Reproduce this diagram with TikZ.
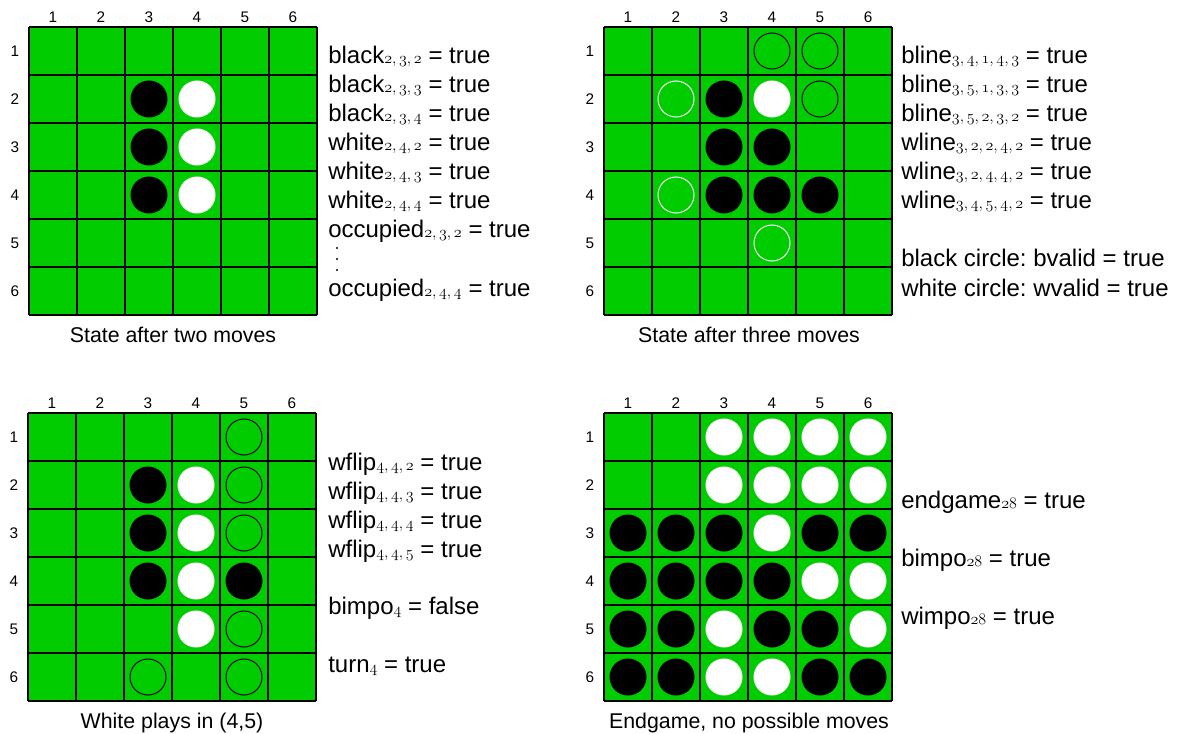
\documentclass[tikz,border=0pt]{standalone}
\usepackage{fontspec}
\setmainfont{Liberation Sans}
\usepackage{xcolor}
\usepackage{tikz}
\usetikzlibrary{positioning}
\definecolor{boardgreen}{HTML}{00CC00}
\frenchspacing
% 变量下标（旧式数字）
\newcommand{\ix}[1]{{\fontsize{12}{12}\selectfont$\mathnormal{#1}$}}

\begin{document}
\begin{tikzpicture}[x=0.75pt, y=-0.75pt,
    gridline/.style={black, line width=0.9pt},
    lbl/.style={font=\fontsize{11.5}{12}\selectfont, inner sep=0pt},
    bdisk/.style={circle, fill=black, inner sep=0pt, minimum size=27.75pt},
    wdisk/.style={circle, fill=white, inner sep=0pt, minimum size=27.75pt},
    bhint/.style={circle, draw=black, line width=0.75pt, inner sep=0pt, minimum size=27pt},
    whint/.style={circle, draw=white, line width=0.75pt, inner sep=0pt, minimum size=27pt},
    fact/.style={anchor=base west, font=\fontsize{18}{20}\selectfont, inner sep=0pt},
    capt/.style={anchor=base, font=\fontsize{16}{20}\selectfont, inner sep=0pt}]
    \useasboundingbox (0,0) rectangle (1180,734);

    % 四个棋盘：绿色底、网格和编号
    \foreach \bx/\by/\bn in {29/27/a, 604/27/b, 28/413/c, 604/413/d} {
        \fill[boardgreen] (\bx,\by) rectangle ++(288,288);
        \foreach \k in {0,...,6} {
            \draw[gridline] (\bx+48*\k,\by) -- ++(0,288);
            \draw[gridline] (\bx,\by+48*\k) -- ++(288,0);
        }
        \foreach \k in {1,...,6} {
            \node[lbl] (\bn-col\k) at (\bx+48*\k-24,\by-10) {\k};
            \node[lbl] (\bn-row\k) at (\bx-14,\by+48*\k-24) {\k};
        }
    }

    % 棋盘1：两步之后
    \begin{scope}[shift={(29,27)}]
        \foreach \c/\r in {3/2, 3/3, 3/4}
            \node[bdisk] (a-b\c\r) at (48*\c-24,48*\r-24) {};
        \foreach \c/\r in {4/2, 4/3, 4/4}
            \node[wdisk] (a-w\c\r) at (48*\c-24,48*\r-24) {};
    \end{scope}

    % 棋盘2：三步之后
    \begin{scope}[shift={(604,27)}]
        \foreach \c/\r in {4/1, 5/1, 5/2}
            \node[bhint] (b-bh\c\r) at (48*\c-24,48*\r-24) {};
        \foreach \c/\r in {2/2, 2/4, 4/5}
            \node[whint] (b-wh\c\r) at (48*\c-24,48*\r-24) {};
        \foreach \c/\r in {3/2, 3/3, 4/3, 3/4, 4/4, 5/4}
            \node[bdisk] (b-b\c\r) at (48*\c-24,48*\r-24) {};
        \node[wdisk] (b-w42) at (48*4-24,48*2-24) {};
    \end{scope}

    % 棋盘3：白方下在 (4,5)
    \begin{scope}[shift={(28,413)}]
        \foreach \c/\r in {5/1, 5/2, 5/3, 5/5, 5/6, 3/6}
            \node[bhint] (c-bh\c\r) at (48*\c-24,48*\r-24) {};
        \foreach \c/\r in {3/2, 3/3, 3/4, 5/4}
            \node[bdisk] (c-b\c\r) at (48*\c-24,48*\r-24) {};
        \foreach \c/\r in {4/2, 4/3, 4/4, 4/5}
            \node[wdisk] (c-w\c\r) at (48*\c-24,48*\r-24) {};
    \end{scope}

    % 棋盘4：终局
    \begin{scope}[shift={(604,413)}]
        \foreach \c/\r in {3/1, 4/1, 5/1, 6/1, 3/2, 4/2, 5/2, 6/2, 4/3, 5/4, 6/4, 3/5, 6/5, 3/6, 4/6}
            \node[wdisk] (d-w\c\r) at (48*\c-24,48*\r-24) {};
        \foreach \c/\r in {1/3, 2/3, 3/3, 5/3, 6/3, 1/4, 2/4, 3/4, 4/4, 1/5, 2/5, 4/5, 5/5, 1/6, 2/6, 5/6, 6/6}
            \node[bdisk] (d-b\c\r) at (48*\c-24,48*\r-24) {};
    \end{scope}

    % 右侧说明文字
    \foreach \t/\yy [count=\i] in {black\ix{2,3,2} = true/64, black\ix{2,3,3} = true/93,
            black\ix{2,3,4} = true/122, white\ix{2,4,2} = true/151, white\ix{2,4,3} = true/180,
            white\ix{2,4,4} = true/209, occupied\ix{2,3,2} = true/238, occupied\ix{2,4,4} = true/296}
        \node[fact] (a-fact\i) at (328,\yy) {\t};
    \foreach \d in {248, 259, 270}
        \fill (337,\d) circle (0.9pt);

    \foreach \t/\yy [count=\i] in {bline\ix{3,4,1,4,3} = true/64, bline\ix{3,5,1,3,3} = true/93,
            bline\ix{3,5,2,3,2} = true/122, wline\ix{3,2,2,4,2} = true/151, wline\ix{3,2,4,4,2} = true/180,
            wline\ix{3,4,5,4,2} = true/209, black circle: bvalid = true/266, white circle: wvalid = true/296}
        \node[fact] (b-fact\i) at (901,\yy) {\t};

    \foreach \t/\yy [count=\i] in {wflip\ix{4,4,2} = true/470, wflip\ix{4,4,3} = true/499,
            wflip\ix{4,4,4} = true/528, wflip\ix{4,4,5} = true/557, bimpo\ix{4} = false/614, turn\ix{4} = true/672}
        \node[fact] (c-fact\i) at (328,\yy) {\t};

    \foreach \t/\yy [count=\i] in {endgame\ix{28} = true/508, bimpo\ix{28} = true/566, wimpo\ix{28} = true/624}
        \node[fact] (d-fact\i) at (901,\yy) {\t};

    % 标题
    \node[capt] (a-cap) at (173,342) {State after two moves};
    \node[capt] (b-cap) at (749,342) {State after three moves};
    \node[capt] (c-cap) at (172,728) {White plays in (4,5)};
    \node[capt] (d-cap) at (749,728) {Endgame, no possible moves};
\end{tikzpicture}
\end{document}
